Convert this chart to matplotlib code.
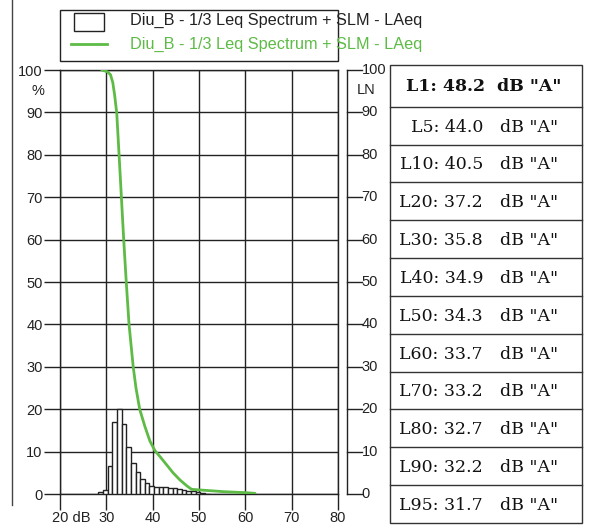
import matplotlib
matplotlib.use("Agg")
import matplotlib.pyplot as plt
from matplotlib.patches import Rectangle
from matplotlib.lines import Line2D
from matplotlib.transforms import ScaledTranslation

# ---------------- data ----------------
bar_centers = [28.8, 29.8, 30.8, 31.8, 32.8, 33.8, 34.8, 35.8, 36.8, 37.8, 38.8,
               39.8, 40.8, 41.8, 42.8, 43.8, 44.8, 45.8, 46.8, 47.8, 48.8, 49.8,
               50.8, 51.8]
bar_pct = [0.4, 1.0, 6.5, 17.0, 20.0, 16.5, 11.0, 7.4, 5.3, 3.6, 2.5,
           1.8, 1.6, 1.6, 1.7, 1.5, 1.3, 1.1, 1.0, 0.8, 0.7, 0.4,
           0.2, 0.1]

curve_db = [29.0, 30.2, 30.9, 31.4, 31.8, 32.25, 32.75, 33.25, 33.75, 34.3, 34.9,
            35.8, 36.4, 37.2, 38.3, 39.4, 40.5, 41.6, 43.0, 44.4, 45.9, 47.4,
            48.4, 50.2, 55.3, 60.3, 62.1]
curve_pct = [100, 99.6, 98.9, 97.0, 94.0, 89.8, 80.0, 70.0, 60.0, 50.0, 40.0,
             30.0, 25.0, 20.0, 16.0, 12.5, 10.2, 8.8, 6.9, 5.0, 3.3, 1.9,
             1.1, 0.95, 0.55, 0.3, 0.15]

x_ticks = [20, 30, 40, 50, 60, 70, 80]
x_tick_labels = ["20 dB", "30", "40", "50", "60", "70", "80"]
y_ticks = [0, 10, 20, 30, 40, 50, 60, 70, 80, 90, 100]

legend_label = "Diu_B - 1/3 Leq Spectrum + SLM - LAeq"

ln_head = "L1: 48.2  dB \"A\""
ln_names = ["L5:", "L10:", "L20:", "L30:", "L40:", "L50:", "L60:", "L70:",
            "L80:", "L90:", "L95:"]
ln_values = ["44.0", "40.5", "37.2", "35.8", "34.9", "34.3", "33.7", "33.2",
             "32.7", "32.2", "31.7"]
unit = "dB \"A\""

# ---------------- layout helpers ----------------
W, H = 589, 525
DPI = 100
def fx(px):
    return px / W
def fy(py):
    return 1 - py / H

GREEN = "#5dbb46"
INK = "#222222"
SANS = "Liberation Sans"

fig = plt.figure(figsize=(W / DPI, H / DPI), dpi=DPI)
fig.patch.set_facecolor("white")

# page border line on the left
fig.add_artist(Line2D([fx(12), fx(12)], [fy(0), fy(505)], color="#444444", lw=1))

# ---------------- main axes ----------------
ax = fig.add_axes([fx(60), fy(494), fx(338) - fx(60), (494 - 70) / H])
ax.set_xlim(20, 80)
ax.set_ylim(0, 100)

ax.bar(bar_centers, bar_pct, width=1.0, facecolor="white", edgecolor=INK,
       linewidth=1.0, zorder=3)
ax.plot(curve_db, curve_pct, color=GREEN, lw=2.0, zorder=4,
        solid_capstyle="round", solid_joinstyle="round")

ax.set_xticks(x_ticks)
ax.set_xticklabels(x_tick_labels, fontfamily=SANS, fontsize=10.5, color=INK)
ax.set_yticks(y_ticks)
ax.set_yticklabels([str(v) for v in y_ticks], fontfamily=SANS, fontsize=10.5,
                   color=INK)
ax.tick_params(axis="both", direction="out", length=11.5, width=1.0,
               color=INK, pad=1)
ax.grid(True, color=INK, lw=1.0, zorder=1)
for s in ax.spines.values():
    s.set_color(INK)
    s.set_linewidth(1.0)

lab0 = ax.get_xticklabels()[0]
lab0.set_horizontalalignment("left")
lab0.set_transform(lab0.get_transform() +
                   ScaledTranslation(-8.5 / DPI, 0, fig.dpi_scale_trans))

fig.text(fx(37.5), fy(91), "%", ha="center", va="center", fontfamily=SANS,
         fontsize=10.5, color=INK)

# ---------------- LN scale ----------------
ax2 = fig.add_axes([fx(346.7), fy(494), fx(361.7) - fx(346.7), (494 - 70) / H])
ax2.set_xlim(0, 1)
ax2.set_ylim(0, 100)
ax2.axis("off")
ax2.plot([0, 0], [0, 100], color=INK, lw=1.0, clip_on=False)
for v in y_ticks:
    ax2.plot([0, 1], [v, v], color=INK, lw=1.0, clip_on=False)
    ax2.text(1.0, v, str(v), ha="left", va="center", fontfamily=SANS,
             fontsize=10.5, color=INK, clip_on=False)
fig.text(fx(366), fy(90), "LN", ha="center", va="center", fontfamily=SANS,
         fontsize=10.5, color=INK)

# ---------------- legend ----------------
fig.add_artist(Rectangle((fx(60), fy(60.7)), fx(338) - fx(60), (60.7 - 10) / H,
                         facecolor="none", edgecolor=INK, lw=1.0))
fig.add_artist(Rectangle((fx(74), fy(30.5)), fx(104) - fx(74), (30.5 - 13.5) / H,
                         facecolor="white", edgecolor=INK, lw=1.0))
fig.add_artist(Line2D([fx(71), fx(107)], [fy(44.3), fy(44.3)], color=GREEN, lw=2.0))
fig.text(fx(130), fy(20.5), legend_label, ha="left", va="center",
         fontfamily=SANS, fontsize=11.7, color=INK)
fig.text(fx(130), fy(44.5), legend_label, ha="left", va="center",
         fontfamily=SANS, fontsize=11.7, color=GREEN)

# ---------------- LN table ----------------
t_left, t_right, t_top, t_bottom = 390, 582, 65, 523
head_bottom = 106.7
row_h = (485 - head_bottom) / 10
fig.add_artist(Rectangle((fx(t_left), fy(t_bottom)), fx(t_right) - fx(t_left),
                         (t_bottom - t_top) / H, facecolor="none",
                         edgecolor="#333333", lw=1.0))
bounds = [head_bottom + k * row_h for k in range(len(ln_names))]
for b in bounds:
    fig.add_artist(Line2D([fx(t_left), fx(t_right)], [fy(b), fy(b)],
                          color="#333333", lw=1.0))

SERIF = "DejaVu Serif"
fig.text(fx(484), fy((t_top + head_bottom) / 2 + 1), ln_head, ha="center",
         va="center", fontfamily=SERIF, fontweight="bold", fontsize=12.5,
         color="#111111")
for k, (nm, val) in enumerate(zip(ln_names, ln_values)):
    yc = head_bottom + (k + 0.5) * row_h + 1.5
    fig.text(fx(483), fy(yc), f"{nm} {val}", ha="right", va="center",
             fontfamily=SERIF, fontsize=12.5, color="#111111")
    fig.text(fx(500), fy(yc), unit, ha="left", va="center",
             fontfamily=SERIF, fontsize=12.5, color="#111111")

fig.savefig("out.png", dpi=DPI)
